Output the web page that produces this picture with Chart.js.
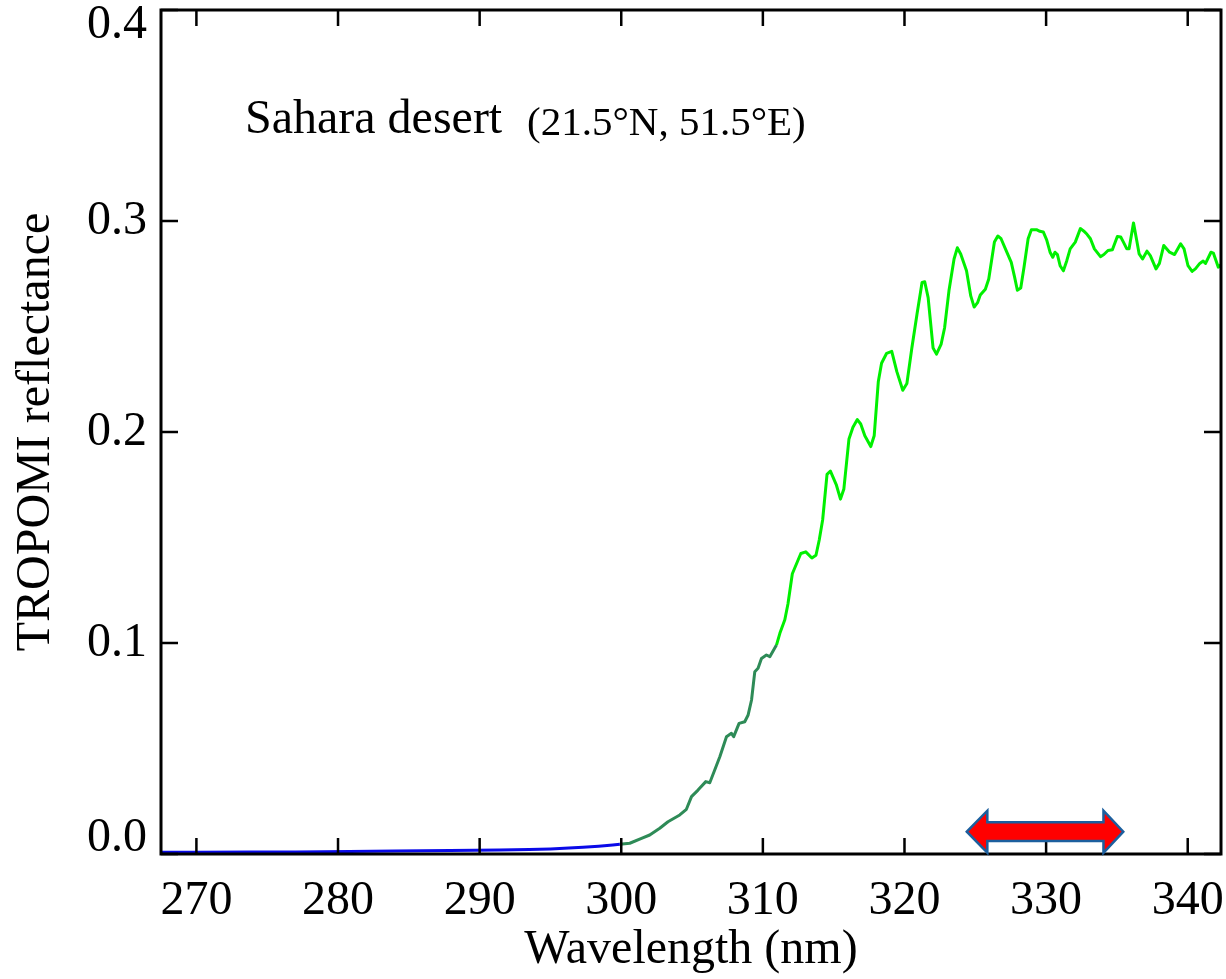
<!DOCTYPE html>
<html><head><meta charset="utf-8">
<script src="https://cdn.jsdelivr.net/npm/chart.js@4"></script>
<style>html,body{margin:0;padding:0;background:#fff;}canvas{display:block;}</style>
</head><body>
<canvas id="c" width="1226" height="979"></canvas>
<script>
// ---- data ----
const xTickValues = [270, 280, 290, 300, 310, 320, 330, 340];
const yTickValues = [0.0, 0.1, 0.2, 0.3, 0.4];

const blueWl   = [267.5, 270, 273.8, 277, 280.8, 284, 287.9, 291.4, 293.5, 295, 296.3, 297.3, 298.4, 299.4, 299.9];
const blueRefl = [0.0008, 0.0008, 0.0009, 0.0010, 0.0012, 0.0014, 0.0017, 0.0019, 0.0021, 0.0024, 0.0028, 0.0032, 0.0037, 0.0043, 0.0046];

const darkWl   = [299.9, 300.6, 301.43, 302.01, 302.72, 303.3, 304.13, 304.6, 304.96, 305.42, 305.97, 306.25, 306.6, 306.96, 307.43, 307.78, 307.94, 308.32, 308.72, 308.96, 309.2, 309.43, 309.66, 309.9, 310.25, 310.49, 310.96];
const darkRefl = [0.0046, 0.0051, 0.0074, 0.0090, 0.0122, 0.0153, 0.0185, 0.0212, 0.0272, 0.0303, 0.0343, 0.0338, 0.0398, 0.0461, 0.0556, 0.0572, 0.0556, 0.0619, 0.0627, 0.0659, 0.0730, 0.0864, 0.0880, 0.0927, 0.0943, 0.0935, 0.0990];

const greenWl = [310.96, 311.2, 311.55, 311.77, 312.08, 312.68, 313.03, 313.46, 313.75, 313.98, 314.22, 314.53, 314.77, 315.18, 315.48, 315.72, 316.08, 316.36, 316.67, 316.91, 317.2, 317.62, 317.86, 318.15, 318.38, 318.74, 319.10, 319.46, 319.88, 320.17, 320.52, 320.88, 321.24, 321.43, 321.67, 322.02, 322.26, 322.59, 322.83, 323.14, 323.50, 323.73, 323.97, 324.38, 324.68, 324.92, 325.16, 325.35, 325.71, 325.95, 326.35, 326.59, 326.82, 327.18, 327.54, 327.78, 327.97, 328.21, 328.44, 328.73, 328.96, 329.32, 329.56, 329.80, 330.04, 330.28, 330.47, 330.63, 330.80, 330.99, 331.22, 331.46, 331.70, 332.06, 332.42, 332.65, 332.89, 333.13, 333.41, 333.84, 334.08, 334.37, 334.68, 335.03, 335.27, 335.46, 335.70, 335.86, 336.17, 336.40, 336.57, 336.81, 337.12, 337.36, 337.76, 338.00, 338.31, 338.72, 339.07, 339.50, 339.74, 340.02, 340.31, 340.54, 340.85, 341.09, 341.26, 341.64, 341.81, 342.16, 342.40];
const greenRefl = [0.0990, 0.1046, 0.1110, 0.1185, 0.1328, 0.1424, 0.1432, 0.1403, 0.1416, 0.1488, 0.1583, 0.1799, 0.1815, 0.1751, 0.1682, 0.1730, 0.1967, 0.2022, 0.2059, 0.2038, 0.1982, 0.1931, 0.1982, 0.2238, 0.2326, 0.2373, 0.2382, 0.2286, 0.2198, 0.2230, 0.2398, 0.2557, 0.2709, 0.2712, 0.2637, 0.2398, 0.2369, 0.2417, 0.2493, 0.2669, 0.2820, 0.2873, 0.2844, 0.2764, 0.2645, 0.2592, 0.2613, 0.2649, 0.2677, 0.2725, 0.2900, 0.2929, 0.2916, 0.2860, 0.2804, 0.2733, 0.2672, 0.2682, 0.2781, 0.2916, 0.2959, 0.2959, 0.2951, 0.2948, 0.2911, 0.2852, 0.2828, 0.2852, 0.2841, 0.2788, 0.2764, 0.2812, 0.2868, 0.2900, 0.2964, 0.2953, 0.2937, 0.2916, 0.2868, 0.2831, 0.2841, 0.2860, 0.2864, 0.2927, 0.2924, 0.2900, 0.2868, 0.2868, 0.2991, 0.2908, 0.2844, 0.2820, 0.2857, 0.2836, 0.2773, 0.2799, 0.2884, 0.2852, 0.2841, 0.2892, 0.2868, 0.2788, 0.2761, 0.2773, 0.2799, 0.2810, 0.2799, 0.2852, 0.2848, 0.2781, 0.2796];

// fitting-window arrow (wavelengths / reflectance levels)
const arrowTips  = [324.4, 335.45];
const arrowHeads = [325.85, 334.05];
const arrowLevels = { headBottom: 0.0006, shaftBottom: 0.0062, mid: 0.0106, shaftTop: 0.0150, headTop: 0.0205 };

const labelMain = 'Sahara desert';
const labelCoords = '(21.5°N, 51.5°E)';
const xTitle = 'Wavelength (nm)';
const yTitle = 'TROPOMI reflectance';

// ---- chart ----
const FONT = "'Liberation Serif', 'Times New Roman', serif";
const toPts = (xs, ys) => xs.map((x, i) => ({ x: x, y: ys[i] }));

const decor = {
  id: 'decor',
  afterDatasetsDraw(chart) {
    const { ctx, chartArea: a, scales: { x, y } } = chart;
    ctx.save();
    // frame
    ctx.strokeStyle = '#000';
    ctx.lineWidth = 3;
    ctx.strokeRect(a.left, a.top, a.right - a.left, a.bottom - a.top);
    // inner ticks (mirrored)
    ctx.lineWidth = 2.5;
    ctx.beginPath();
    xTickValues.forEach(v => {
      const px = x.getPixelForValue(v);
      ctx.moveTo(px, a.bottom); ctx.lineTo(px, a.bottom - 16);
      ctx.moveTo(px, a.top); ctx.lineTo(px, a.top + 16);
    });
    yTickValues.forEach(v => {
      const py = y.getPixelForValue(v);
      ctx.moveTo(a.left, py); ctx.lineTo(a.left + 17, py);
      ctx.moveTo(a.right, py); ctx.lineTo(a.right - 17, py);
    });
    ctx.stroke();

    // arrow
    const X = v => x.getPixelForValue(v), Y = v => y.getPixelForValue(v);
    const L = arrowLevels;
    ctx.beginPath();
    ctx.moveTo(X(arrowTips[0]), Y(L.mid));
    ctx.lineTo(X(arrowHeads[0]), Y(L.headTop));
    ctx.lineTo(X(arrowHeads[0]), Y(L.shaftTop));
    ctx.lineTo(X(arrowHeads[1]), Y(L.shaftTop));
    ctx.lineTo(X(arrowHeads[1]), Y(L.headTop));
    ctx.lineTo(X(arrowTips[1]), Y(L.mid));
    ctx.lineTo(X(arrowHeads[1]), Y(L.headBottom));
    ctx.lineTo(X(arrowHeads[1]), Y(L.shaftBottom));
    ctx.lineTo(X(arrowHeads[0]), Y(L.shaftBottom));
    ctx.lineTo(X(arrowHeads[0]), Y(L.headBottom));
    ctx.closePath();
    ctx.fillStyle = '#ff0000';
    ctx.fill();
    ctx.lineWidth = 2.5;
    ctx.strokeStyle = '#1c5f9e';
    ctx.lineJoin = 'miter';
    ctx.stroke();

    // edge y labels (kept inside the axis extent)
    ctx.fillStyle = '#000';
    ctx.font = '48px ' + FONT;
    ctx.textAlign = 'right';
    ctx.textBaseline = 'middle';
    ctx.fillText('0.0', a.left - 14, Y(0) - 16);
    ctx.fillText('0.4', a.left - 14, Y(0.4) + 15);

    // annotation
    ctx.textAlign = 'left';
    ctx.textBaseline = 'alphabetic';
    ctx.font = '48px ' + FONT;
    ctx.fillText(labelMain, 245, 133);
    ctx.font = '41px ' + FONT;
    ctx.fillText(labelCoords, 527, 135);
    ctx.restore();
  }
};

new Chart(document.getElementById('c'), {
  type: 'line',
  data: {
    datasets: [
      { data: toPts(blueWl, blueRefl), borderColor: '#0a0ae8', borderWidth: 3 },
      { data: toPts(darkWl, darkRefl), borderColor: '#2e8b57', borderWidth: 3 },
      { data: toPts(greenWl, greenRefl), borderColor: '#00f000', borderWidth: 3 }
    ]
  },
  options: {
    responsive: false,
    animation: false,
    parsing: false,
    elements: { point: { radius: 0 }, line: { tension: 0, borderJoinStyle: 'round' } },
    layout: { padding: { top: 10, right: 5, left: 0, bottom: 0 } },
    plugins: { legend: { display: false }, tooltip: { enabled: false } },
    scales: {
      x: {
        type: 'linear', min: 267.5, max: 342.35,
        grid: { display: false, drawTicks: false },
        border: { display: false },
        ticks: { stepSize: 10, includeBounds: false, padding: 19, color: '#000',
                 font: { family: FONT, size: 48 }, callback: v => String(v), maxRotation: 0, autoSkip: false },
        title: { display: true, text: xTitle, color: '#000', font: { family: FONT, size: 48 }, padding: { top: 0, bottom: 0 } },
        afterFit: s => { s.height = 125; s.paddingLeft = 0; s.paddingRight = 0; }
      },
      y: {
        type: 'linear', min: 0, max: 0.4,
        grid: { display: false, drawTicks: false },
        border: { display: false },
        ticks: { stepSize: 0.1, padding: 14, font: { family: FONT, size: 48 },
                 callback: v => v.toFixed(1),
                 color: c => (c.tick && (Math.abs(c.tick.value) < 1e-9 || Math.abs(c.tick.value - 0.4) < 1e-9)) ? 'rgba(0,0,0,0)' : '#000' },
        title: { display: true, text: yTitle, color: '#000', font: { family: FONT, size: 48 }, padding: { top: 8, bottom: 0 } },
        afterFit: s => { s.width = 161; s.paddingTop = 0; s.paddingBottom = 0; }
      }
    }
  },
  plugins: [decor]
});
</script>
</body></html>
